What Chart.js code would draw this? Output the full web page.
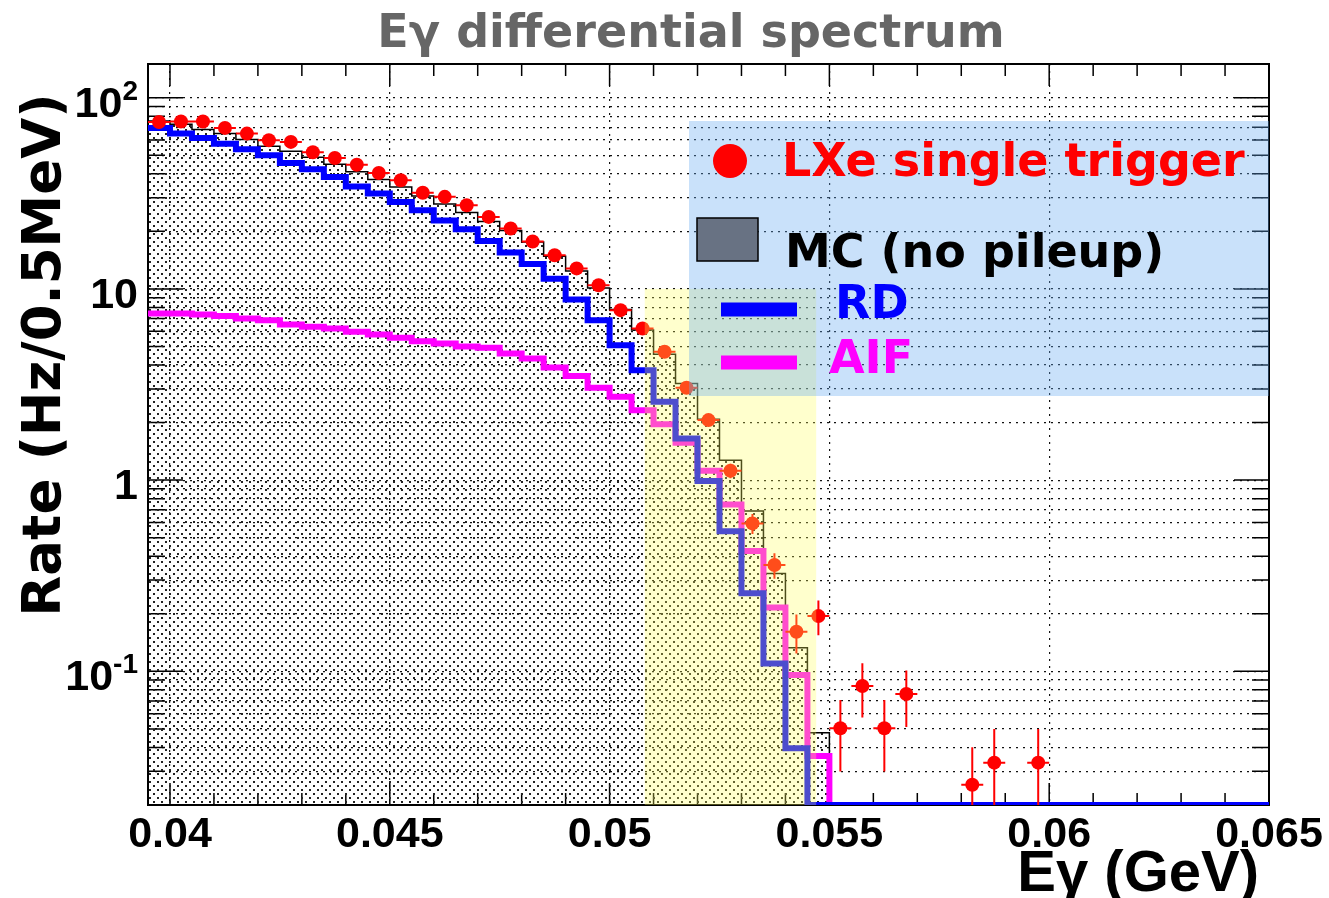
<!DOCTYPE html>
<html>
<head>
<meta charset="utf-8">
<script src="https://cdn.jsdelivr.net/npm/chart.js@4.4.0/dist/chart.umd.min.js"></script>
<style>
html,body{margin:0;padding:0;background:#fff;}
#wrap{width:1329px;height:898px;position:relative;}
</style>
</head>
<body>
<div id="wrap"><canvas id="c" width="1329" height="898"></canvas></div>
<script>
// ---------------- data ----------------
const xAxisMin = 0.0395, xAxisMax = 0.065;
const yAxisMin = 0.02, yAxisMax = 150;
const binWidth = 0.0005;

// lower edges of the 0.5 MeV bins (GeV)
const binLowEdges = [
  0.0395,0.0400,0.0405,0.0410,0.0415,0.0420,0.0425,0.0430,0.0435,0.0440,
  0.0445,0.0450,0.0455,0.0460,0.0465,0.0470,0.0475,0.0480,0.0485,0.0490,
  0.0495,0.0500,0.0505,0.0510,0.0515,0.0520,0.0525,0.0530,0.0535,0.0540,
  0.0545,0.0550,0.0555,0.0560,0.0565,0.0570,0.0575,0.0580,0.0585,0.0590,
  0.0595,0.0600,0.0605,0.0610,0.0615,0.0620,0.0625,0.0630,0.0635,0.0640,
  0.0645
];

// LXe single trigger (data points), Hz/0.5MeV ; null = empty bin
const lxeRate = [
  74.6,75.0,75.0,69.5,64.9,59.9,58.7,51.8,48.4,44.6,
  40.4,37.0,31.8,30.3,27.4,23.8,20.7,17.7,15.0,12.8,
  10.45,7.74,6.21,4.69,3.04,2.06,1.12,0.594,0.36,0.161,
  0.1945,0.0504,0.0838,0.0504,0.0761,null,null,0.0255,0.0333,null,
  0.0333,null,null,null,null,null,null,null,null,null,
  null
];
const lxeErr = [
  0.8,0.8,0.8,0.76,0.74,0.71,0.70,0.66,0.64,0.61,
  0.58,0.56,0.52,0.50,0.48,0.45,0.42,0.39,0.36,0.33,
  0.30,0.25,0.23,0.20,0.16,0.13,0.097,0.071,0.055,0.037,
  0.040,0.0205,0.0265,0.0205,0.025,null,null,0.0146,0.0167,null,
  0.0167,null,null,null,null,null,null,null,null,null,
  null
];

// MC (no pileup) total
const mcRate = [
  75.5,72.6,68.1,64.9,60.4,55.7,52.5,48.8,44.8,41.0,
  37.3,34.1,30.6,27.8,25.1,22.5,20.2,17.6,14.8,12.4,
  10.1,7.8,6.1,4.55,3.2,2.08,1.27,0.69,0.325,0.133,
  0.0478,0,0,0,0,0,0,0,0,0,
  0,0,0,0,0,0,0,0,0,0,
  0
];

// RD component
const rdRate = [
  69.5,65.0,61.6,57.5,53.8,50.0,45.6,42.2,38.5,34.3,
  31.5,28.5,25.8,22.8,20.5,17.8,15.5,13.5,11.3,8.8,
  6.86,5.08,3.76,2.57,1.65,0.99,0.54,0.256,0.110,0.0396,
  0,0,0,0,0,0,0,0,0,0,
  0,0,0,0,0,0,0,0,0,0,
  0
];

// AIF component
const aifRate = [
  7.43,7.43,7.35,7.22,7.0,6.86,6.51,6.33,6.21,5.96,
  5.78,5.55,5.33,5.18,5.0,4.93,4.59,4.33,3.88,3.50,
  3.04,2.73,2.32,1.96,1.57,1.12,0.745,0.426,0.216,0.0957,
  0.0361,0,0,0,0,0,0,0,0,0,
  0,0,0,0,0,0,0,0,0,0,
  0
];

// axis ticks
const xMajorTicks = [0.04,0.045,0.05,0.055,0.06,0.065];
const xTickLabels = ['0.04','0.045','0.05','0.055','0.06','0.065'];
const xMinorTicks = [0.040,0.041,0.042,0.043,0.044,0.045,0.046,0.047,0.048,0.049,
                     0.050,0.051,0.052,0.053,0.054,0.055,0.056,0.057,0.058,0.059,
                     0.060,0.061,0.062,0.063,0.064,0.065];
const yMajorTicks = [0.1,1,10,100];
const yTickBase = ['10','1','10','10'];
const yTickExp  = ['-1','','','2'];
const yDecades = [0.01,0.1,1,10,100];
const yMantissas = [1,2,3,4,5,6,7,8,9];

// shaded signal window (GeV) and its upper rate edge
const bandX = [0.0508, 0.0547];
const bandTop = 10;

// ---------------- helpers ----------------
function stepData(values){
  // zero bins are drawn on the frame bottom, as ROOT does for log axes
  const pts = binLowEdges.map((e,i)=>({x:e, y: values[i] > 0 ? values[i] : yAxisMin}));
  pts.push({x: binLowEdges[binLowEdges.length-1] + binWidth, y: pts[pts.length-1].y});
  return pts;
}
const lxePoints = [];
binLowEdges.forEach((e,i)=>{
  if (lxeRate[i] != null) lxePoints.push({x: e + binWidth/2, y: lxeRate[i], err: lxeErr[i]});
});

function makePattern(){
  const c = document.createElement('canvas');
  c.width = 8; c.height = 8;
  const g = c.getContext('2d');
  g.fillStyle = '#222';
  g.fillRect(1,1,2,2);
  g.fillRect(5,5,2,2);
  return document.getElementById('c').getContext('2d').createPattern(c,'repeat');
}

// ---------------- plugins ----------------
const frameTicks = {
  id:'frameTicks',
  beforeDatasetsDraw(chart){
    const {ctx, chartArea:a, scales:{x,y}} = chart;
    ctx.save();
    ctx.strokeStyle = '#000';
    ctx.lineWidth = 1.5;
    ctx.beginPath();
    x.ticks.forEach(t=>{
      const px = x.getPixelForValue(t.value);
      const L = t.major ? 22 : 12;
      ctx.moveTo(px, a.bottom); ctx.lineTo(px, a.bottom - L);
      ctx.moveTo(px, a.top); ctx.lineTo(px, a.top + L);
    });
    y.ticks.forEach(t=>{
      const py = y.getPixelForValue(t.value);
      const L = t.major ? 35 : 17;
      ctx.moveTo(a.left, py); ctx.lineTo(a.left + L, py);
      ctx.moveTo(a.right, py); ctx.lineTo(a.right - L, py);
    });
    ctx.stroke();
    ctx.lineWidth = 2;
    ctx.strokeRect(a.left, a.top, a.right - a.left, a.bottom - a.top);
    ctx.restore();
  }
};

const errorBars = {
  id:'errorBars',
  beforeDatasetDraw(chart, args){
    if (args.index !== 0) return;
    const {ctx, chartArea:a, scales:{x,y}} = chart;
    ctx.save();
    ctx.beginPath(); ctx.rect(a.left, a.top, a.right-a.left, a.bottom-a.top); ctx.clip();
    ctx.strokeStyle = '#ff0000';
    ctx.lineWidth = 2;
    ctx.beginPath();
    lxePoints.forEach(p=>{
      const px = x.getPixelForValue(p.x), py = y.getPixelForValue(p.y);
      const lo = p.y - p.err;
      const pyLo = lo > 0 ? y.getPixelForValue(lo) : a.bottom + 5;
      const pyHi = y.getPixelForValue(p.y + p.err);
      ctx.moveTo(px, pyLo); ctx.lineTo(px, pyHi);
      ctx.moveTo(x.getPixelForValue(p.x - binWidth/2), py);
      ctx.lineTo(x.getPixelForValue(p.x + binWidth/2), py);
    });
    ctx.stroke();
    ctx.restore();
  }
};

const overlays = {
  id:'overlays',
  afterDatasetsDraw(chart){
    const {ctx, chartArea:a, scales:{x,y}} = chart;
    ctx.save();
    // yellow signal window
    const bx0 = x.getPixelForValue(bandX[0]), bx1 = x.getPixelForValue(bandX[1]);
    const by = y.getPixelForValue(bandTop);
    ctx.fillStyle = 'rgba(255,255,90,0.3)';
    ctx.fillRect(bx0, by, bx1 - bx0, a.bottom - by);
    // legend box
    ctx.fillStyle = 'rgba(100,170,240,0.35)';
    ctx.fillRect(689, 121, a.right - 689, 275);
    // legend entries
    ctx.fillStyle = '#ff0000';
    ctx.beginPath(); ctx.arc(730, 161, 17, 0, Math.PI*2); ctx.fill();
    ctx.font = 'bold 46px "DejaVu Sans"';
    ctx.textBaseline = 'alphabetic';
    ctx.textAlign = 'left';
    ctx.fillText('LXe single trigger', 782, 176);
    ctx.fillStyle = '#687283';
    ctx.fillRect(697, 218, 61, 43);
    ctx.strokeStyle = '#000'; ctx.lineWidth = 1.5;
    ctx.strokeRect(697, 218, 61, 43);
    ctx.fillStyle = '#000';
    ctx.fillText('MC (no pileup)', 785, 267);
    ctx.lineCap = 'butt';
    ctx.lineWidth = 14;
    ctx.strokeStyle = '#0000ff';
    ctx.beginPath(); ctx.moveTo(721, 309.5); ctx.lineTo(797, 309.5); ctx.stroke();
    ctx.fillStyle = '#0000ff';
    ctx.fillText('RD', 835, 318);
    ctx.strokeStyle = '#ff00ff';
    ctx.beginPath(); ctx.moveTo(721, 362.5); ctx.lineTo(797, 362.5); ctx.stroke();
    ctx.fillStyle = '#ff00ff';
    ctx.fillText('AIF', 829, 373);
    ctx.restore();
  },
  afterDraw(chart){
    const {ctx, chartArea:a, scales:{y}} = chart;
    ctx.save();
    // title
    ctx.fillStyle = '#666666';
    ctx.font = 'bold 46px "DejaVu Sans"';
    ctx.textAlign = 'center';
    ctx.textBaseline = 'alphabetic';
    ctx.fillText('E\u03b3 differential spectrum', 691, 47);
    // y tick labels with superscripts
    ctx.fillStyle = '#000';
    yMajorTicks.forEach((v,i)=>{
      const py = y.getPixelForValue(v);
      const base = yTickBase[i], ex = yTickExp[i];
      ctx.font = 'bold 28px "Liberation Sans"';
      const we = ex ? ctx.measureText(ex).width : 0;
      const right = a.left - 10;
      if (ex){
        ctx.textAlign = 'right';
        ctx.fillText(ex, right, py + 2);
      }
      ctx.font = 'bold 43px "Liberation Sans"';
      ctx.textAlign = 'right';
      ctx.fillText(base, right - we, py + 19);
    });
    // y title
    ctx.save();
    ctx.translate(60, 355);
    ctx.rotate(-Math.PI/2);
    ctx.font = 'bold 53px "DejaVu Sans"';
    ctx.textAlign = 'center';
    ctx.fillText('Rate (Hz/0.5MeV)', 0, 0);
    ctx.restore();
    // x title
    ctx.font = 'bold 58px "Liberation Sans"';
    ctx.textAlign = 'right';
    ctx.fillText('E\u03b3 (GeV)', 1259, 891);
    ctx.restore();
  }
};

// ---------------- chart ----------------
const dotPattern = makePattern();

new Chart(document.getElementById('c'), {
  type: 'line',
  data: {
    datasets: [
      {
        label: 'LXe single trigger',
        data: lxePoints,
        showLine: false,
        pointRadius: 7,
        pointHoverRadius: 7,
        pointBackgroundColor: '#ff0000',
        pointBorderWidth: 0,
        borderColor: '#ff0000',
        order: 0
      },
      {
        label: 'RD',
        data: stepData(rdRate),
        stepped: true,
        borderColor: '#0000ff',
        borderWidth: 6,
        pointRadius: 0,
        fill: false,
        order: 1
      },
      {
        label: 'AIF',
        data: stepData(aifRate),
        stepped: true,
        borderColor: '#ff00ff',
        borderWidth: 6,
        pointRadius: 0,
        fill: false,
        order: 2
      },
      {
        label: 'MC (no pileup)',
        data: stepData(mcRate),
        stepped: true,
        borderColor: '#000000',
        borderWidth: 1.5,
        backgroundColor: dotPattern,
        pointRadius: 0,
        fill: 'start',
        order: 3
      }
    ]
  },
  options: {
    responsive: false,
    devicePixelRatio: 1,
    animation: false,
    events: [],
    layout: { padding: { left: 0, right: 60, top: 64, bottom: 0 } },
    plugins: { legend: { display: false }, title: { display: false }, tooltip: { enabled: false } },
    scales: {
      x: {
        type: 'linear',
        min: xAxisMin, max: xAxisMax,
        afterBuildTicks(scale){
          scale.ticks = xMinorTicks.map(v=>({value: v, major: xMajorTicks.some(m=>Math.abs(m-v)<1e-9)}));
        },
        afterFit(scale){ scale.height = 93; },
        ticks: {
          autoSkip: false, maxRotation: 0, minRotation: 0,
          padding: 4,
          color: '#000',
          font: { family: 'Liberation Sans', weight: 'bold', size: 43 },
          callback(value){
            const i = xMajorTicks.findIndex(m=>Math.abs(m-value)<1e-9);
            return i >= 0 ? xTickLabels[i] : '';
          }
        },
        grid: {
          drawTicks: false,
          lineWidth: 1.2,
          color: ctx => (ctx.tick && ctx.tick.major && ctx.tick.value < xAxisMax - 1e-9) ? '#111' : 'rgba(0,0,0,0)'
        },
        border: { display: false, dash: [2,5] }
      },
      y: {
        type: 'logarithmic',
        min: yAxisMin, max: yAxisMax,
        afterBuildTicks(scale){
          const t = [];
          yDecades.forEach(d=>yMantissas.forEach(m=>{
            const v = +(m*d).toPrecision(3);
            if (v >= yAxisMin - 1e-12 && v <= yAxisMax) t.push({value: v, major: m === 1});
          }));
          scale.ticks = t;
        },
        afterFit(scale){ scale.width = 148; },
        ticks: { display: false, autoSkip: false },
        grid: { drawTicks: false, lineWidth: 1.2, color: '#111' },
        border: { display: false, dash: [2,5] }
      }
    }
  },
  plugins: [frameTicks, errorBars, overlays]
});
</script>
</body>
</html>
